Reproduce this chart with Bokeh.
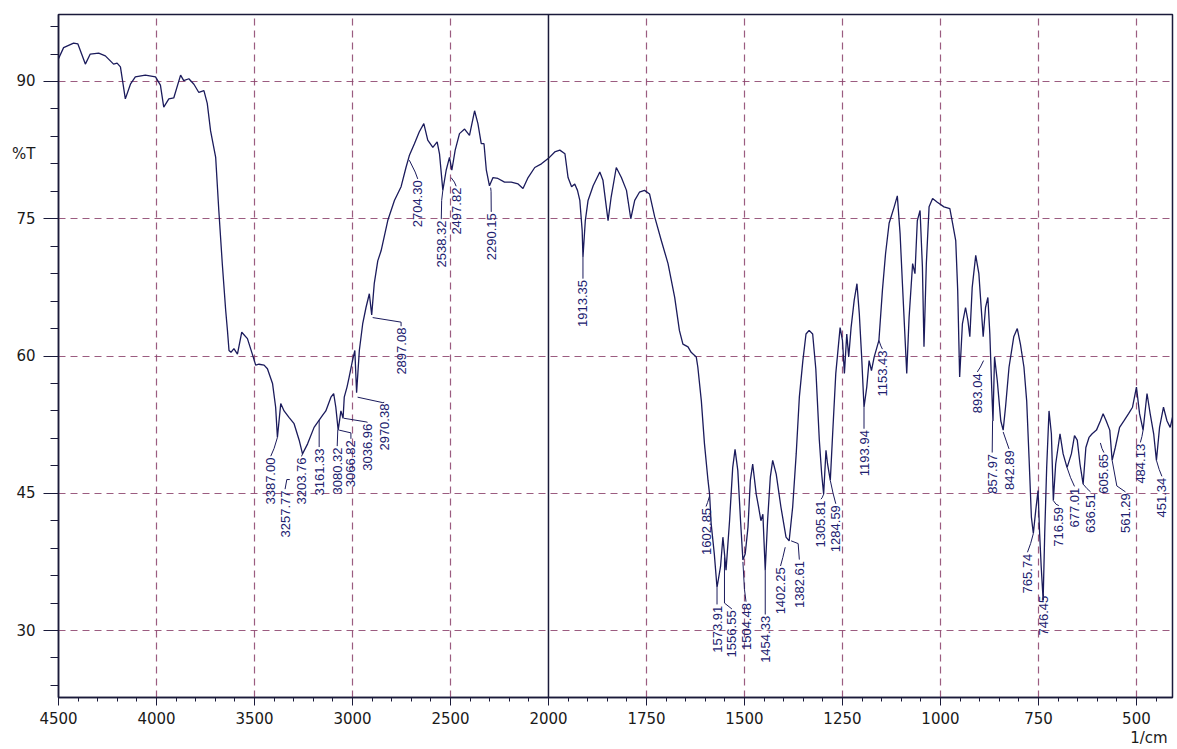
import math
from bokeh.plotting import figure
from bokeh.models import FixedTicker, Range1d, Span, LinearAxis, CustomJSTickFormatter
from bokeh.embed import file_html
from bokeh.resources import INLINE
from bokeh.core.properties import value

# ---------------- data ----------------
wavenumber = [
    4500, 4474, 4423, 4401, 4363, 4338, 4295, 4261, 4219, 4201, 4184, 4159, 4133, 4108, 4057, 4005,
    3980, 3963, 3937, 3912, 3877, 3861, 3835, 3809, 3784, 3758, 3741, 3724, 3698, 3682, 3664, 3647,
    3638, 3630, 3620, 3605, 3587, 3565, 3536, 3511, 3494, 3477, 3451, 3434, 3408, 3392, 3383, 3366,
    3349, 3324, 3298, 3272, 3255, 3229, 3196, 3170, 3153, 3136, 3110, 3096, 3085, 3073, 3059, 3048,
    3042, 3028, 3017, 3000, 2988, 2979, 2965, 2948, 2931, 2914, 2902, 2889, 2871, 2854, 2820, 2786,
    2752, 2727, 2710, 2684, 2659, 2636, 2616, 2590, 2568, 2556, 2539, 2522, 2505, 2493, 2476, 2454,
    2428, 2403, 2377, 2360, 2343, 2329, 2317, 2301, 2283, 2258, 2224, 2190, 2155, 2130, 2104, 2070,
    2036, 2000,
    1984, 1971, 1958, 1950, 1941, 1933, 1926, 1920, 1914, 1912, 1906, 1899, 1886, 1869, 1861, 1848,
    1840, 1827, 1814, 1801, 1790, 1780, 1768, 1755, 1742, 1729, 1712, 1695, 1678, 1666, 1657, 1644,
    1636, 1623, 1619, 1610, 1602, 1593, 1589, 1585, 1577, 1570, 1561, 1555, 1551, 1547, 1538, 1530,
    1524, 1517, 1510, 1504, 1498, 1491, 1485, 1479, 1470, 1464, 1458, 1453, 1447, 1441, 1434, 1428,
    1419, 1407, 1394, 1386, 1377, 1368, 1360, 1351, 1343, 1335, 1326, 1318, 1309, 1303, 1298, 1292,
    1288, 1281, 1275, 1267, 1256, 1250, 1245, 1239, 1234, 1228, 1220, 1213, 1207, 1201, 1195, 1188,
    1182, 1176, 1169, 1157, 1148, 1140, 1131, 1118, 1110, 1103, 1097, 1088, 1086, 1080, 1071, 1065,
    1059, 1052, 1046, 1042, 1036, 1029, 1020, 1008, 991, 976, 969, 961, 956, 951, 944, 936,
    930, 925, 919, 910, 902, 891, 885, 879, 874, 869, 866, 862, 855, 846, 840, 834,
    825, 813, 804, 796, 787, 780, 774, 768, 763, 757, 751, 747, 743, 738, 734, 729,
    723, 717, 712, 706, 695, 687, 677, 666, 658, 651, 644, 636, 629, 621, 613, 602,
    592, 585, 577, 568, 562, 554, 543, 532, 520, 510, 500, 492, 483, 473, 465, 456,
    449, 441, 431, 422, 414, 408,
]
transmittance = [
    92.5, 93.7, 94.2, 94.1, 91.9, 93.0, 93.1, 92.8, 91.9, 92.0, 91.6, 88.1, 89.7, 90.5, 90.7, 90.5,
    89.6, 87.2, 88.1, 88.2, 90.7, 90.1, 90.3, 89.7, 88.8, 89.0, 87.6, 84.6, 81.7, 75.9, 70.0, 65.0,
    62.8, 60.6, 60.4, 60.8, 60.2, 62.6, 61.9, 60.2, 59.0, 59.1, 59.0, 58.6, 57.0, 54.4, 51.1, 54.8,
    54.0, 53.3, 52.6, 50.8, 49.3, 50.4, 52.2, 53.0, 53.5, 54.0, 55.5, 55.9, 54.4, 51.9, 54.0, 53.2,
    55.5, 56.6, 57.7, 59.5, 60.6, 56.0, 60.6, 63.5, 65.3, 66.8, 64.5, 67.9, 70.4, 71.5, 74.8, 77.0,
    78.5, 80.6, 81.9, 83.2, 84.5, 85.4, 83.6, 82.8, 83.4, 82.1, 78.1, 80.3, 81.7, 80.3, 82.5, 84.3,
    84.8, 84.1, 86.8, 85.4, 83.2, 83.2, 80.3, 78.6, 79.5, 79.4, 79.0, 79.0, 78.8, 78.3, 79.5, 80.6,
    81.0, 81.6,
    82.3, 82.5, 82.1, 79.5, 78.5, 78.8, 78.1, 77.0, 73.7, 70.8, 74.8, 77.0, 78.6, 80.1, 79.2, 74.8,
    77.4, 80.6, 79.5, 78.1, 75.0, 77.0, 77.9, 78.1, 77.7, 75.2, 72.6, 70.1, 66.4, 62.8, 61.3, 61.0,
    60.4, 59.9, 58.8, 55.1, 50.4, 46.4, 44.9, 41.7, 38.4, 34.7, 37.0, 40.2, 38.4, 36.6, 42.0, 47.8,
    49.8, 47.5, 42.0, 37.7, 38.4, 41.3, 46.4, 48.2, 44.9, 43.5, 42.0, 42.7, 36.6, 42.0, 46.8, 48.6,
    47.1, 43.5, 40.2, 39.8, 43.5, 49.3, 55.5, 59.5, 62.4, 62.8, 62.4, 58.6, 50.8, 47.1, 44.9, 49.7,
    48.2, 46.4, 51.5, 58.1, 63.1, 61.7, 58.1, 62.4, 59.9, 63.1, 66.1, 67.9, 64.6, 59.9, 54.4, 56.6,
    59.5, 58.4, 59.9, 61.7, 67.2, 71.2, 74.5, 76.3, 77.5, 73.4, 67.9, 59.9, 58.1, 64.2, 70.1, 69.0,
    74.8, 75.9, 69.7, 61.0, 70.1, 76.3, 77.2, 76.8, 76.3, 76.1, 74.5, 72.6, 67.2, 57.7, 63.5, 65.3,
    63.9, 62.1, 67.5, 71.0, 69.0, 62.1, 65.3, 66.4, 62.4, 56.2, 52.9, 59.9, 57.3, 52.9, 51.9, 54.4,
    58.8, 62.1, 63.0, 61.3, 58.8, 55.1, 48.9, 42.4, 40.6, 43.1, 45.3, 40.6, 37.0, 33.3, 40.6, 47.8,
    54.0, 51.5, 44.2, 48.2, 51.5, 49.3, 47.8, 49.3, 51.3, 50.8, 48.2, 46.0, 50.0, 51.1, 51.5, 51.9,
    52.9, 53.7, 52.9, 51.9, 48.6, 50.0, 52.2, 52.9, 53.7, 54.4, 56.6, 53.7, 51.9, 55.9, 53.7, 51.5,
    48.6, 52.2, 54.4, 52.9, 52.2, 53.3,
]

x_tick_labels = ["4500", "4000", "3500", "3000", "2500", "2000",
                 "1750", "1500", "1250", "1000", "750", "500"]
y_tick_values = [30, 45, 60, 75, 90]
y_title = "%T"
y_title_at = 82.1
x_unit = "1/cm"
x_unit_at = 418

# peak annotations: text, start point on curve, bend point, label top
peak_text = ["3387.00", "3257.77", "3203.76", "3161.33", "3080.32", "3066.82", "3036.96",
             "2970.38", "2897.08", "2704.30", "2538.32", "2497.82", "2290.15",
             "1913.35", "1602.85", "1573.91", "1556.55", "1504.48", "1454.33", "1402.25",
             "1382.61", "1305.81", "1284.59", "1193.94", "1153.43", "893.04", "857.97",
             "842.89", "765.74", "746.45", "716.59", "677.01", "636.51", "605.65",
             "561.29", "484.13", "451.34"]
peak_wn = [3383, 3320, 3255, 3170, 3073, 3068, 3045, 2974, 2897, 2710, 2539, 2497, 2295,
           1912, 1589, 1570, 1551, 1504, 1447, 1396, 1381, 1298, 1281, 1195, 1157, 890, 866,
           840, 763, 738, 712, 677, 636, 592, 562, 483, 449]
peak_t = [51.1, 46.5, 49.3, 53.0, 51.9, 51.9, 53.2, 55.5, 64.2, 81.4, 78.1, 79.5, 78.4,
          70.8, 44.7, 34.7, 38.0, 37.5, 36.6, 39.1, 39.8, 44.9, 46.4, 54.4, 61.7, 59.5, 52.9,
          51.7, 40.6, 33.3, 44.2, 47.8, 46.0, 50.5, 48.6, 51.9, 48.6]
bend_wn = [3400, 3335, 3258, 3170, 3075, 3008, 2931, 2845, 2752, 2680, 2545, 2480, 2293,
           1912, 1594, 1570, 1551, 1500, 1447, 1402, 1363, 1302, 1274, 1195, 1152, 898, 867,
           832, 770, 738, 705, 668, 626, 588, 550, 486, 442]
bend_t = [49.9, 46.5, 49.1, 53.0, 51.9, 51.6, 52.8, 54.9, 63.7, 80.1, 77.0, 79.0, 78.0,
          70.8, 44.0, 34.7, 33.0, 34.5, 36.6, 38.0, 39.5, 44.5, 45.0, 54.4, 61.1, 58.8, 52.9,
          50.7, 39.5, 33.3, 43.8, 46.7, 45.5, 49.9, 45.8, 51.2, 47.6]
label_wn = [3417, 3344, 3262, 3170, 3078, 3008, 2923, 2838, 2752, 2667, 2547, 2471, 2292,
            1912, 1598, 1570, 1532, 1496, 1447, 1408, 1360, 1305, 1267, 1195, 1148, 906, 868,
            825, 778, 737, 698, 658, 617, 583, 528, 490, 435]
label_t = [48.9, 45.3, 48.9, 49.9, 50.0, 50.8, 52.6, 54.8, 63.1, 79.2, 74.8, 78.4, 75.6,
           68.3, 43.4, 32.7, 32.2, 33.0, 31.6, 36.9, 37.6, 44.2, 43.7, 51.9, 60.6, 58.1, 49.3,
           49.7, 38.4, 33.8, 43.5, 45.6, 45.0, 49.3, 45.0, 50.4, 46.7]


def pos(w):
    """Split wavenumber axis: 500 cm-1 per division above 2000, 250 per division below."""
    return (4500 - w) / 500.0 if w >= 2000 else 5 + (2000 - w) / 250.0


X_END = 408
INK = "#1b1b5c"
AXIS = "#1a1a3a"
GRID = "#8a3f6a"
FONT = "DejaVu Sans"

p = figure(width=1177, height=749,
           x_range=Range1d(pos(4500), pos(X_END)), y_range=Range1d(22.68, 97.32),
           output_backend="svg", toolbar_location=None,
           min_border_left=58, min_border_right=5, min_border_top=14, min_border_bottom=52)
p.background_fill_color = "white"
p.border_fill_color = "white"
p.outline_line_color = AXIS
p.outline_line_width = 1.5

# ---- primary x axis (broken scale) ----
xax = p.below[0]
major_x = [pos(int(s)) for s in x_tick_labels]
minor_x = [pos(w) for w in range(4500, 2000, -100)] + [pos(w) for w in range(2000, X_END, -50)]
xax.ticker = FixedTicker(ticks=major_x, minor_ticks=minor_x)
xax.major_label_overrides = {int(round(pos(int(s)))): s for s in x_tick_labels}
xax.major_tick_in = 0
xax.major_tick_out = 8
xax.minor_tick_in = 0
xax.minor_tick_out = 4
xax.major_label_standoff = 6

# ---- primary y axis: tick marks only ----
yax = p.left[0]
yax.ticker = FixedTicker(ticks=y_tick_values, minor_ticks=list(range(24, 97, 3)))
yax.formatter = CustomJSTickFormatter(code="return ''")
yax.major_tick_in = 0
yax.major_tick_out = 15
yax.minor_tick_in = 0
yax.minor_tick_out = 8
yax.major_label_standoff = 0

for ax in (xax, yax):
    ax.axis_line_color = AXIS
    ax.axis_line_width = 1.5
    ax.major_tick_line_color = AXIS
    ax.minor_tick_line_color = AXIS
    ax.major_label_text_font = FONT
    ax.major_label_text_font_size = "15px"
    ax.major_label_text_color = "#1a1a1a"

# ---- outer y axis: numbers and the %T title ----
ylab = LinearAxis(
    ticker=FixedTicker(ticks=y_tick_values + [y_title_at]),
    formatter=CustomJSTickFormatter(
        args=dict(t=y_title_at, s=y_title),
        code="return Math.abs(tick - t) < 1e-6 ? s : tick.toFixed(0)"),
    axis_line_color=None, major_tick_line_color=None, minor_tick_line_color=None,
    major_tick_in=0, major_tick_out=0, major_label_standoff=8,
    major_label_text_font=FONT, major_label_text_font_size="15px",
    major_label_text_color="#1a1a1a")
p.add_layout(ylab, "left")

# ---- outer x axis: the unit at the right end ----
xunit = LinearAxis(
    ticker=FixedTicker(ticks=[pos(x_unit_at)]),
    formatter=CustomJSTickFormatter(args=dict(s=x_unit), code="return s"),
    axis_line_color=None, major_tick_line_color=None, minor_tick_line_color=None,
    major_tick_in=0, major_tick_out=0, major_label_standoff=2,
    major_label_text_font=FONT, major_label_text_font_size="15px",
    major_label_text_color="#1a1a1a")
p.add_layout(xunit, "below")

# ---- grid ----
grid_x = [pos(int(s)) for s in x_tick_labels if s not in ("4500", "2000")]
p.xgrid.ticker = FixedTicker(ticks=grid_x)
p.ygrid.ticker = FixedTicker(ticks=y_tick_values)
for g in (p.xgrid, p.ygrid):
    g.grid_line_color = GRID
    g.grid_line_dash = "7 5"
    g.grid_line_width = 1.2
    g.grid_line_alpha = 0.85

p.add_layout(Span(location=pos(2000), dimension="height", line_color=AXIS, line_width=1.5))

# ---- spectrum ----
p.line([pos(w) for w in wavenumber], transmittance, line_color=INK, line_width=1.3)

# ---- peak leaders and labels ----
p.multi_line(
    xs=[[pos(a), pos(b), pos(c)] for a, b, c in zip(peak_wn, bend_wn, label_wn)],
    ys=[[a, b, c + 0.15] for a, b, c in zip(peak_t, bend_t, label_t)],
    line_color=INK, line_width=1.0)
p.text(x=[pos(w) for w in label_wn], y=label_t, text=peak_text,
       angle=math.pi / 2, text_align="right", text_baseline="middle",
       text_font=value("Liberation Sans"), text_font_size="13px", text_color="#20206e")

open("out.html", "w").write(file_html(p, INLINE))
